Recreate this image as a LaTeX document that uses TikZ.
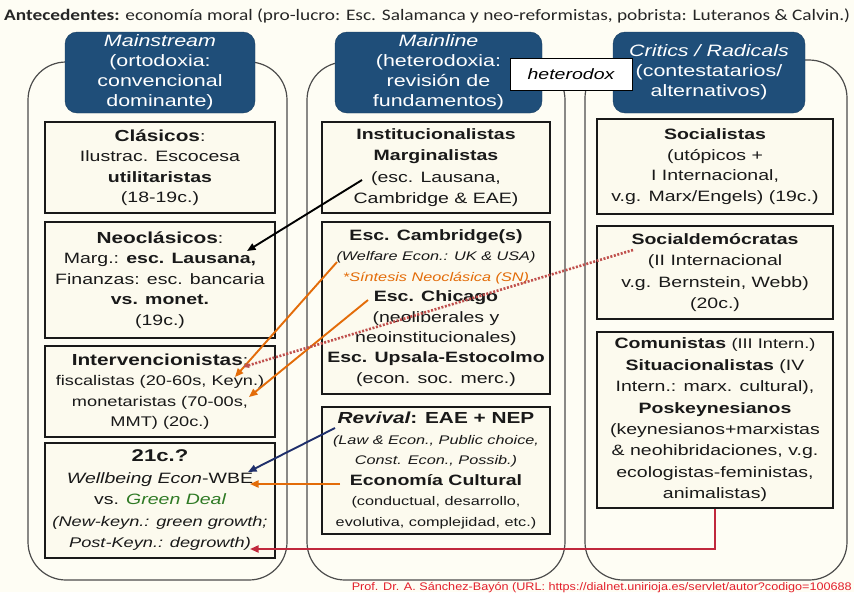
\documentclass[tikz,border=0pt]{standalone}
\usepackage{fontspec}
\usepackage{graphicx}
\setmainfont{Liberation Sans}[FakeStretch=1.3]
\newfontfamily\calib{Carlito}
\newfontfamily\plainsans{Liberation Sans}
\usetikzlibrary{arrows.meta,calc}
\definecolor{bgc}{HTML}{FEFDF4}
\definecolor{boxfill}{HTML}{FCFAEE}
\definecolor{hdblue}{HTML}{1F4E79}
\definecolor{orng}{HTML}{E36C09}
\definecolor{dotred}{HTML}{C0504D}
\definecolor{navyc}{HTML}{1F2F6B}
\definecolor{crims}{HTML}{C0283C}
\definecolor{grn}{HTML}{2F7A25}
\definecolor{footc}{HTML}{E3202B}
\newcommand\fhead{\fontsize{16}{20}\selectfont\bfseries}
\newcommand\fsub{\fontsize{15}{20}\selectfont\bfseries}
\newcommand\fbody{\fontsize{15}{20.5}\selectfont}
\newcommand\fmid{\fontsize{14}{20}\selectfont}
\newcommand\fsmall{\fontsize{12.5}{20}\selectfont\itshape}
\newcommand\ftiny{\fontsize{12.5}{20}\selectfont}
\begin{document}
\begin{tikzpicture}[x=1pt,y=-1pt,
  colbox/.style={draw=black!70, line width=1.2pt, rounded corners=38pt, inner sep=0pt},
  hdbox/.style={fill=hdblue, draw=hdblue!80!black, rounded corners=12pt, text=white, align=center,
     font=\fontsize{16.5}{20}\selectfont, inner sep=0pt},
  box/.style={draw=black!90, line width=1.5pt, fill=boxfill, rectangle, inner sep=0pt,
     align=center, font=\fbody, text=black!90},
  arr/.style={-{Triangle[length=8.5pt,width=7pt]}, line width=1.9pt},
  blk/.style={arr, draw=black},
  org/.style={arr, draw=orng},
  nav/.style={arr, draw=navyc},
  dotarr/.style={line width=2.6pt, draw=dotred, dash pattern=on 2pt off 1.6pt,
     -{Triangle[length=6pt,width=5pt]}},
  redarr/.style={arr, draw=crims}
]
\useasboundingbox (0,0) rectangle (854,592);
\fill[bgc] (0,0) rectangle (854,592);

% heading line
\node[anchor=base west, inner sep=0pt, text=black!85] (ante) at (4,20)
  {\resizebox{846pt}{\height}{\calib\fontsize{16}{18}\selectfont\textbf{Antecedentes:} economía moral (pro-lucro: Esc. Salamanca y neo-reformistas, pobrista: Luteranos \& Calvin.)}};

% columns
\node[colbox, minimum width=259pt, minimum height=518pt] (colL) at (157.5,321) {};
\node[colbox, minimum width=258pt, minimum height=518pt] (colM) at (436,321) {};
\node[colbox, minimum width=262pt, minimum height=520pt] (colR) at (716,320) {};

% blue headers
\node[hdbox, minimum width=190pt, minimum height=81pt] (hL) at (160,72.5)
  {{\itshape Mainstream}\\ (ortodoxia:\\ convencional\\ dominante)};
\node[hdbox, minimum width=207pt, minimum height=81pt] (hM) at (438.5,72.5)
  {{\itshape Mainline}\\ (heterodoxia:\\ revisión de\\ fundamentos)};
\node[hdbox, minimum width=192pt, minimum height=81pt] (hR) at (709,72.5)
  {{\itshape Critics / Radicals}\\ (contestatarios/\\ alternativos)};

\node[draw=black, line width=1pt, fill=white, minimum width=122pt, minimum height=32pt,
  inner sep=0pt, font=\fontsize{15}{18}\selectfont\itshape] (het) at (571,74) {heterodox};

% left column
\node[box, minimum width=230pt, minimum height=91pt] (clas) at (160,167.5)
  {{\fhead Clásicos}:\\ Ilustrac. Escocesa\\ {\fsub utilitaristas}\\ (18-19c.)};
\node[box, minimum width=230pt, minimum height=116pt] (neo) at (160,280)
  {{\fhead Neoclásicos}:\\ Marg.: {\bfseries esc. Lausana,}\\ Finanzas: esc. bancaria\\ {\bfseries vs. monet.}\\ (19c.)};
\node[box, minimum width=230pt, minimum height=91pt] (interv) at (160,391.5)
  {{\fhead Intervencionistas}:\\ {\fmid fiscalistas (20-60s, Keyn.)}\\ {\fmid monetaristas (70-00s,}\\ {\fmid MMT) (20c.)}};
\node[box, minimum width=230pt, minimum height=115pt, font=\fontsize{15}{21.5}\selectfont] (c21) at (160,500.5)
  {{\fontsize{17}{20}\selectfont\bfseries 21c.?}\\ {\itshape Wellbeing Econ}-WBE\\ vs. {\itshape\color{grn}Green Deal}\\
   {\fmid\itshape (New-keyn.: green growth;}\\ {\fmid\itshape Post-Keyn.: degrowth)}};

% middle column
\node[box, minimum width=228pt, minimum height=91pt, font=\fontsize{15}{21.5}\selectfont] (inst) at (436,167.5)
  {{\fsub Institucionalistas}\\ {\fsub Marginalistas}\\ (esc. Lausana,\\ Cambridge \& EAE)};
\node[box, minimum width=228pt, minimum height=172pt, font=\fontsize{15}{20.4}\selectfont] (camb) at (436,308)
  {{\fsub Esc. Cambridge(s)}\\ {\fsmall (Welfare Econ.: UK \& USA)}\\ {\fsmall\color{orng}*Síntesis Neoclásica (SN)}\\
   {\fsub Esc. Chicago}\\ (neoliberales y\\ neoinstitucionales)\\ {\fsub Esc. Upsala-Estocolmo}\\ (econ. soc. merc.)};
\node[box, minimum width=228pt, minimum height=127pt] (reviv) at (436,470.5)
  {{\fhead\itshape Revival}{\fhead : EAE + NEP}\\ {\fsmall (Law \& Econ., Public choice,}\\ {\fsmall Const. Econ., Possib.)}\\
   {\fsub Economía Cultural}\\ {\ftiny (conductual, desarrollo,}\\ {\ftiny evolutiva, complejidad, etc.)}};

% right column
\node[box, minimum width=236pt, minimum height=95pt] (soc) at (715,166.5)
  {{\fsub Socialistas}\\ (utópicos +\\ I Internacional,\\ v.g. Marx/Engels) (19c.)};
\node[box, minimum width=236pt, minimum height=93pt, font=\fontsize{15}{21.5}\selectfont] (socd) at (715,272.5)
  {{\fsub Socialdemócratas}\\ (II Internacional\\ v.g. Bernstein, Webb)\\ (20c.)};
\node[box, minimum width=236pt, minimum height=176pt, font=\fontsize{15}{21.4}\selectfont] (comu) at (715,420)
  {{\fsub Comunistas} {\fmid (III Intern.)}\\ {\fsub Situacionalistas} (IV\\ Intern.: marx. cultural),\\ {\fsub Poskeynesianos}\\
   (keynesianos+marxistas\\ \& neohibridaciones, v.g.\\ ecologistas-feministas,\\ animalistas)};

% connector end points
\coordinate (k1) at (362,180);  \coordinate (k2) at (247,251);
\coordinate (o1) at (337,262);  \coordinate (o2) at (235,377);
\coordinate (o3) at (368,300);  \coordinate (o4) at (249,397);
\coordinate (d1) at (633,250);  \coordinate (d2) at (243,367);
\coordinate (n1) at (335,428);  \coordinate (n2) at (248,472);
\coordinate (e1) at (340,484);  \coordinate (e2) at (250,484);
\coordinate (r2) at (250,549);

\draw[blk] (k1) -- (k2);
\draw[org] (o1) -- (o2);
\draw[org] (o3) -- (o4);
\draw[dotarr] (d1) -- (d2);
\draw[nav] (n1) -- (n2);
\draw[org] (e1) -- (e2);
\draw[redarr] (comu.south) |- (r2);

% footer
\node[anchor=base east, inner sep=0pt, text=footc] (foot) at (852,590)
  {\resizebox{500pt}{\height}{\plainsans\fontsize{11}{12}\selectfont Prof. Dr. A. Sánchez-Bayón (URL: https://dialnet.unirioja.es/servlet/autor?codigo=100688}};
\end{tikzpicture}
\end{document}
